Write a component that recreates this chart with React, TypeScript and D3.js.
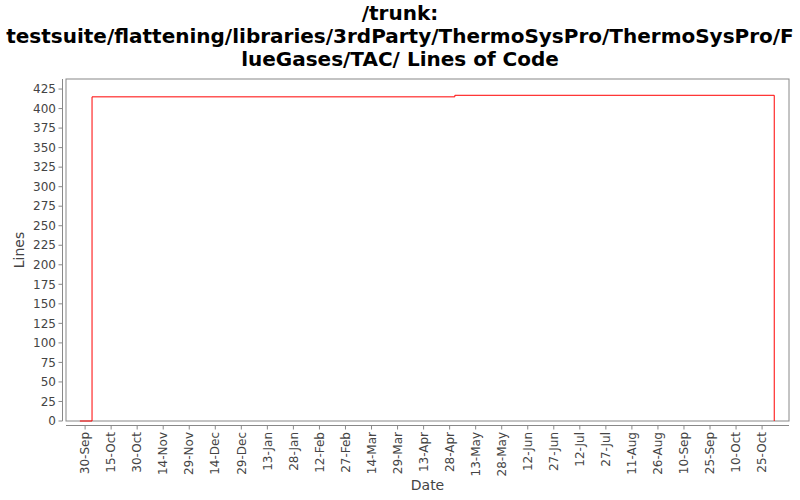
import * as d3 from "d3";

const titleLines = [
  "/trunk:",
  "testsuite/flattening/libraries/3rdParty/ThermoSysPro/ThermoSysPro/F",
  "lueGases/TAC/ Lines of Code",
];

// lines-of-code history (step after)
const dates = ["2008-09-27", "2008-10-04", "2009-05-01", "2009-11-01"];
const lines = [0, 415, 417, 0];

const tickDates = [
  "2008-09-30", "2008-10-15", "2008-10-30", "2008-11-14", "2008-11-29", "2008-12-14",
  "2008-12-29", "2009-01-13", "2009-01-28", "2009-02-12", "2009-02-27", "2009-03-14",
  "2009-03-29", "2009-04-13", "2009-04-28", "2009-05-13", "2009-05-28", "2009-06-12",
  "2009-06-27", "2009-07-12", "2009-07-27", "2009-08-11", "2009-08-26", "2009-09-10",
  "2009-09-25", "2009-10-10", "2009-10-25",
];
const yTicks = d3.range(0, 426, 25);

const parse = d3.utcParse("%Y-%m-%d");
const fmt = d3.utcFormat("%-d-%b");

const W = 800;
const H = 500;
const plot = { left: 66, right: 789, top: 79, bottom: 421 };
const font = "'DejaVu Sans', sans-serif";

export default function App() {
  const pts = dates.map((d, i) => ({ date: parse(d)!, v: lines[i] }));

  const x = d3
    .scaleUtc()
    .domain([parse("2008-09-19")!, new Date(Date.UTC(2009, 10, 9, 12))])
    .range([plot.left, plot.right]);
  const y = d3
    .scaleLinear()
    .domain([0, d3.max(lines)! * 1.05])
    .range([plot.bottom, plot.top]);

  const path = d3
    .line<{ date: Date; v: number }>()
    .x((d) => x(d.date))
    .y((d) => y(d.v))
    .curve(d3.curveStepAfter)(pts);

  const axisColor = "#888888";
  const labelColor = "#444444";

  return (
    <svg
      width={W}
      height={H}
      style={{ position: "absolute", left: 0, top: 0, background: "#fff" }}
      fontFamily={font}
    >
      <rect width={W} height={H} fill="#fff" />
      {titleLines.map((t, i) => (
        <text
          key={i}
          x={W / 2}
          y={20 + i * 23}
          textAnchor="middle"
          fontSize={20}
          fontWeight="bold"
          fill="#000"
        >
          {t}
        </text>
      ))}

      <rect
        x={plot.left}
        y={plot.top}
        width={plot.right - plot.left}
        height={plot.bottom - plot.top}
        fill="#fff"
        stroke={axisColor}
        strokeWidth={1}
      />

      {/* y axis */}
      <line x1={62.5} x2={62.5} y1={plot.top} y2={plot.bottom} stroke={axisColor} />
      {yTicks.map((t) => (
        <g key={t} transform={`translate(0,${y(t)})`}>
          <line x1={58.5} x2={62.5} stroke={axisColor} />
          <text x={56} dy="0.35em" textAnchor="end" fontSize={12} fill={labelColor}>
            {t}
          </text>
        </g>
      ))}
      <text
        transform={`translate(24,${(plot.top + plot.bottom) / 2}) rotate(-90)`}
        textAnchor="middle"
        fontSize={14}
        fill={labelColor}
      >
        Lines
      </text>

      {/* x axis */}
      <line x1={plot.left} x2={plot.right} y1={425.5} y2={425.5} stroke={axisColor} />
      {tickDates.map((d) => {
        const dt = parse(d)!;
        const px = x(dt);
        return (
          <g key={d}>
            <line x1={px} x2={px} y1={425.5} y2={429.5} stroke={axisColor} />
            <text
              transform={`translate(${px},432) rotate(-90)`}
              dy="0.35em"
              textAnchor="end"
              fontSize={12}
              fill={labelColor}
            >
              {fmt(dt)}
            </text>
          </g>
        );
      })}
      <text x={(plot.left + plot.right) / 2} y={490} textAnchor="middle" fontSize={14} fill={labelColor}>
        Date
      </text>

      <path d={path ?? ""} fill="none" stroke="#ff0000" strokeWidth={1} />
    </svg>
  );
}
